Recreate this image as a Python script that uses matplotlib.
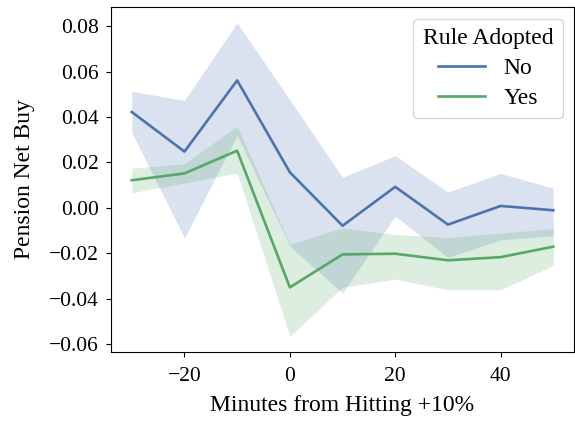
import matplotlib
matplotlib.use("Agg")
import matplotlib.pyplot as plt

# minutes relative to hitting +10%, mean net buy with 95% band
minutes = [-30, -20, -10, 0, 10, 20, 30, 40, 50]

no_mean = [0.0422, 0.0248, 0.0561, 0.0157, -0.0078, 0.0093, -0.0073, 0.0009, -0.0010]
no_lo = [0.0332, -0.0132, 0.0320, -0.0168, -0.0374, -0.0035, -0.0218, -0.0140, -0.0122]
no_hi = [0.0513, 0.0473, 0.0814, 0.0475, 0.0135, 0.0230, 0.0070, 0.0152, 0.0087]

yes_mean = [0.0122, 0.0152, 0.0252, -0.0349, -0.0204, -0.0201, -0.0230, -0.0216, -0.0170]
yes_lo = [0.0067, 0.0110, 0.0154, -0.0564, -0.0348, -0.0313, -0.0360, -0.0360, -0.0252]
yes_hi = [0.0175, 0.0194, 0.0360, -0.0160, -0.0087, -0.0117, -0.0130, -0.0110, -0.0091]

plt.rcParams["font.family"] = ["Liberation Serif", "DejaVu Serif"]
plt.rcParams["font.size"] = 16

fig = plt.figure(figsize=(5.75, 4.21), dpi=100)
ax = fig.add_axes([0.1925, 0.164, 0.8065, 0.819])

blue = "#4C72B0"
green = "#55A868"

ax.fill_between(minutes, no_lo, no_hi, color=blue, alpha=0.2, linewidth=0)
ax.plot(minutes, no_mean, color=blue, lw=1.9, label="No")
ax.fill_between(minutes, yes_lo, yes_hi, color=green, alpha=0.2, linewidth=0)
ax.plot(minutes, yes_mean, color=green, lw=1.9, label="Yes")

ax.set_xticks([-20, 0, 20, 40])
ax.set_xticklabels(["\u221220", "0", "20", "40"])
yt = [-0.06, -0.04, -0.02, 0.0, 0.02, 0.04, 0.06, 0.08]
ax.set_yticks(yt)
ax.set_yticklabels([f"{v:.2f}".replace("-", "\u2212") for v in yt])
ax.tick_params(labelsize=15.5)
ax.tick_params(axis="x", pad=7.5)
ax.tick_params(axis="y", pad=5)

ax.set_xlabel("Minutes from Hitting +10%", fontsize=17, labelpad=6)
ax.set_ylabel("Pension Net Buy", fontsize=17, labelpad=10)

ax.legend(title="Rule Adopted", loc="upper right", fontsize=17, title_fontsize=17,
          labelspacing=0.35, handlelength=2.0, borderpad=0.4)

fig.savefig("out.png", dpi=100)
